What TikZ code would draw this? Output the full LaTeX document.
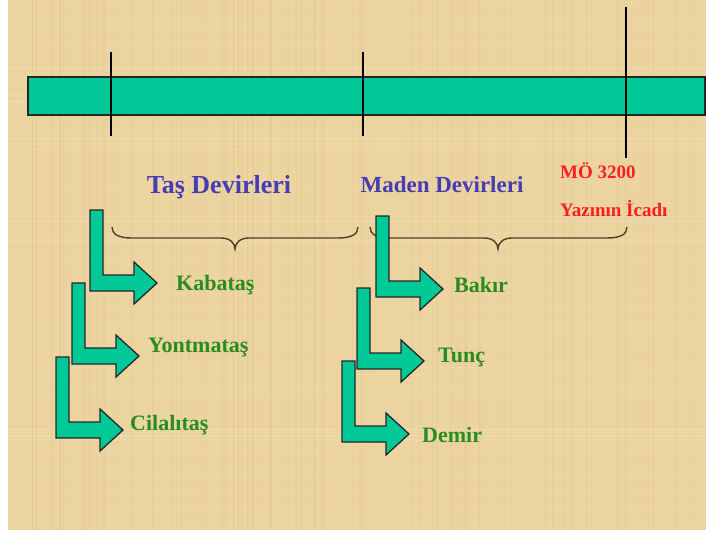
\documentclass[tikz,border=0pt]{standalone}
\usepackage{fontspec}
\setmainfont{Liberation Serif}
\definecolor{paper}{RGB}{236,212,160}
\definecolor{paperdark}{RGB}{205,175,120}
\definecolor{teal}{RGB}{0,200,150}
\definecolor{titleblue}{RGB}{70,60,180}
\definecolor{labgreen}{RGB}{40,140,30}
\definecolor{labred}{RGB}{250,30,30}
\definecolor{bracecol}{RGB}{80,65,35}
\tikzset{
  tl/.style={x=1pt,y=-1pt},
  tick/.style={line width=2.4pt,black},
  tealshape/.style={fill=teal,draw=black!85,line width=1.3pt,line join=miter},
  bracepath/.style={draw=bracecol,line width=1.4pt},
  lab/.style={inner sep=0pt,anchor=west,text=labgreen,font=\fontsize{22}{26}\selectfont\bfseries},
  ttl/.style={inner sep=0pt,text=titleblue},
  red/.style={inner sep=0pt,anchor=west,text=labred,font=\fontsize{19}{22}\selectfont\bfseries},
  bentarrow/.pic={
    \path[tealshape] (0,0) -- (13,0) -- (13,65) -- (44,65) -- (44,52) -- (67,73)
      -- (44,94) -- (44,81) -- (0,81) -- cycle;
    \coordinate (-tip) at (67,73);
  }
}
\begin{document}
\begin{tikzpicture}[tl]
\useasboundingbox (0,0) rectangle (706,535);
% background paper
\fill[paper] (8,0) rectangle (706,530);
\pgfmathsetseed{7}
\foreach \i in {1,...,90}{
  \pgfmathsetmacro{\xx}{10+rnd*694}
  \pgfmathsetmacro{\op}{0.08+rnd*0.15}
  \draw[paperdark,opacity=\op,line width=0.8pt] (\xx,0) -- (\xx,530);
}
\foreach \i in {1,...,60}{
  \pgfmathsetmacro{\yy}{2+rnd*526}
  \pgfmathsetmacro{\op}{0.05+rnd*0.10}
  \draw[white,opacity=\op,line width=0.8pt] (8,\yy) -- (706,\yy);
}
% time bar
\path[fill=teal,draw=black!85,line width=1.3pt] (28,77) rectangle (705,115);
\coordinate (t1a) at (111,52); \coordinate (t1b) at (111,136);
\coordinate (t2a) at (363,52); \coordinate (t2b) at (363,136);
\coordinate (t3a) at (626,7);  \coordinate (t3b) at (626,158);
\draw[tick] (t1a) -- (t1b);
\draw[tick] (t2a) -- (t2b);
\draw[tick] (t3a) -- (t3b);
% titles
\node[ttl,font=\fontsize{26}{30}\selectfont\bfseries] (tas) at (219,187) {Taş Devirleri};
\node[ttl,font=\fontsize{23}{27}\selectfont\bfseries] (maden) at (442,185) {Maden Devirleri};
\node[red] (mo) at (560,171) {MÖ 3200};
\node[red] (yazi) at (560,208) {Yazının İcadı};
% braces
\draw[bracepath] (112,227) .. controls (112,234) and (118,238) .. (132,238)
  -- (221,238) .. controls (230,238) and (235,243) .. (235,249)
  .. controls (235,243) and (240,238) .. (249,238)
  -- (338,238) .. controls (352,238) and (358,234) .. (358,227);
\draw[bracepath] (370,227) .. controls (370,234) and (376,238) .. (390,238)
  -- (484,238) .. controls (493,238) and (498,243) .. (498,249)
  .. controls (498,243) and (503,238) .. (512,238)
  -- (607,238) .. controls (621,238) and (627,234) .. (627,227);
% bent arrows
\pic (ak) at (90,210) {bentarrow};
\pic (ay) at (72,283) {bentarrow};
\pic (ac) at (56,357) {bentarrow};
\pic (ab) at (376,216) {bentarrow};
\pic (at) at (357,288) {bentarrow};
\pic (ad) at (342,361) {bentarrow};
% labels
\node[lab] (kab) at (176,285) {Kabataş};
\node[lab] (yon) at (148,348) {Yontmataş};
\node[lab] (cil) at (130,425) {Cilalıtaş};
\node[lab] (bak) at (454,285) {Bakır};
\node[lab] (tun) at (438,358) {Tunç};
\node[lab] (dem) at (422,435) {Demir};
\end{tikzpicture}
\end{document}
